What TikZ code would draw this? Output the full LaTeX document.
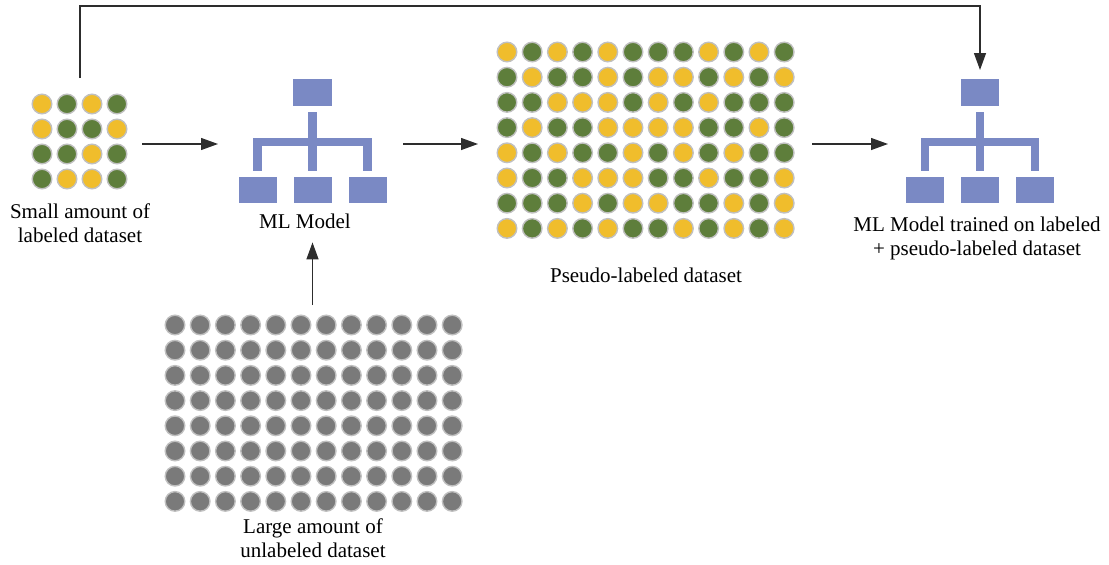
\documentclass[tikz,border=0pt]{standalone}
\usepackage{fontspec}
\setmainfont{Liberation Serif}
\usetikzlibrary{arrows.meta}

\definecolor{dotY}{RGB}{240,189,44}
\definecolor{dotG}{RGB}{94,126,59}
\definecolor{dotgray}{RGB}{122,122,122}
\definecolor{dotrim}{RGB}{192,192,192}
\definecolor{chartblue}{RGB}{122,137,196}
\definecolor{linkgray}{RGB}{45,45,45}

\tikzset{
  dot/.style={draw=dotrim, line width=1.4pt},
  frame/.style={inner sep=0pt, outer sep=0pt, draw=none},
  lbl/.style={font=\fontsize{21}{24}\selectfont, align=center, anchor=base, inner sep=0pt},
  link/.style={draw=linkgray, line width=1.3pt, -{Triangle[width=12pt,length=17pt]}},
  % hierarchy icon, origin at the top centre of its top box
  orgchart/.pic={
    \fill[chartblue] (-19.2,0) rectangle (19.2,27);
    \fill[chartblue] (-4.2,33) rectangle (4.2,92);
    \fill[chartblue] (-59.2,59) rectangle (59.2,67);
    \fill[chartblue] (-59.2,59) rectangle (-50.8,92);
    \fill[chartblue] (50.8,59) rectangle (59.2,92);
    \fill[chartblue] (-74,98) rectangle (-36,124);
    \fill[chartblue] (-19,98) rectangle (19,124);
    \fill[chartblue] (36,98) rectangle (74,124);
  }
}

\begin{document}
\begin{tikzpicture}[x=1pt, y=-1pt]
\useasboundingbox (0,0) rectangle (1109,565);

% small labeled dataset, 4 x 4
\foreach \row [count=\j from 0] in {{Y,G,Y,G},{Y,G,G,Y},{G,G,Y,G},{G,Y,Y,G}}{
  \foreach \c [count=\i from 0] in \row {
    \draw[dot, fill=dot\c] ({42+25*\i},{104+25*\j}) circle[radius=9.8pt];
  }
}

% pseudo-labeled dataset, 12 x 8
\foreach \row [count=\j from 0] in {
  {Y,G,Y,G,Y,G,G,G,Y,G,Y,G},
  {G,Y,G,G,Y,G,Y,Y,G,Y,G,Y},
  {G,G,Y,Y,Y,G,Y,G,Y,G,G,G},
  {G,Y,G,G,Y,Y,Y,Y,G,G,Y,G},
  {Y,G,Y,G,G,Y,G,Y,G,Y,G,G},
  {Y,G,G,Y,Y,Y,G,G,Y,G,G,Y},
  {G,G,G,Y,G,Y,Y,G,G,Y,G,Y},
  {Y,G,Y,G,Y,G,G,Y,G,Y,G,Y}}{
  \foreach \c [count=\i from 0] in \row {
    \draw[dot, fill=dot\c] ({507+25.2*\i},{52+25.2*\j}) circle[radius=9.8pt];
  }
}

% unlabeled dataset, 12 x 8
\foreach \j in {0,...,7}{
  \foreach \i in {0,...,11}{
    \draw[dot, fill=dotgray] ({175+25.2*\i},{325+25.2*\j}) circle[radius=9.8pt];
  }
}

% models
\pic at (312.5,79) {orgchart};
\pic at (980,79) {orgchart};

% outlines of the blocks, used as connector ends
\node[frame, minimum width=98pt,  minimum height=112pt] (labeled)   at (80,144)    {};
\node[frame, minimum width=148pt, minimum height=130pt] (model)     at (312.5,144) {};
\node[frame, minimum width=298pt, minimum height=200pt] (pseudo)    at (645.5,144) {};
\node[frame, minimum width=148pt, minimum height=130pt] (final)     at (980,144)   {};
\node[frame, minimum width=298pt, minimum height=197pt] (unlabeled) at (312.5,413) {};
\coordinate (topline) at (0,6);

% captions (base = baseline of the last line)
\node[lbl] (labeledtext)   at (80,242)  {Small amount of\\labeled dataset};
\node[lbl] (modeltext)     at (305,228) {ML Model};
\node[lbl] (pseudotext)    at (646,282) {Pseudo-labeled dataset};
\node[lbl] (finaltext)     at (977,255) {ML Model trained on labeled\\+ pseudo-labeled dataset};
\node[lbl] (unlabeledtext) at (313,557) {Large amount of\\unlabeled dataset};

% connectors
\draw[link, shorten <=13pt,   shorten >=20.5pt] (labeled) -- (model);
\draw[link, shorten <=16.5pt, shorten >=18.5pt] (model) -- (pseudo);
\draw[link, shorten <=17.5pt, shorten >=18pt]   (pseudo) -- (final);
\draw[link, shorten <=9.5pt,  shorten >=14pt]   (unlabeled.north) -- (unlabeled.north |- modeltext.south);
\draw[link, shorten <=10pt,   shorten >=9pt]    (labeled.north) -- (labeled.north |- topline) -| (final.north);
\end{tikzpicture}
\end{document}
